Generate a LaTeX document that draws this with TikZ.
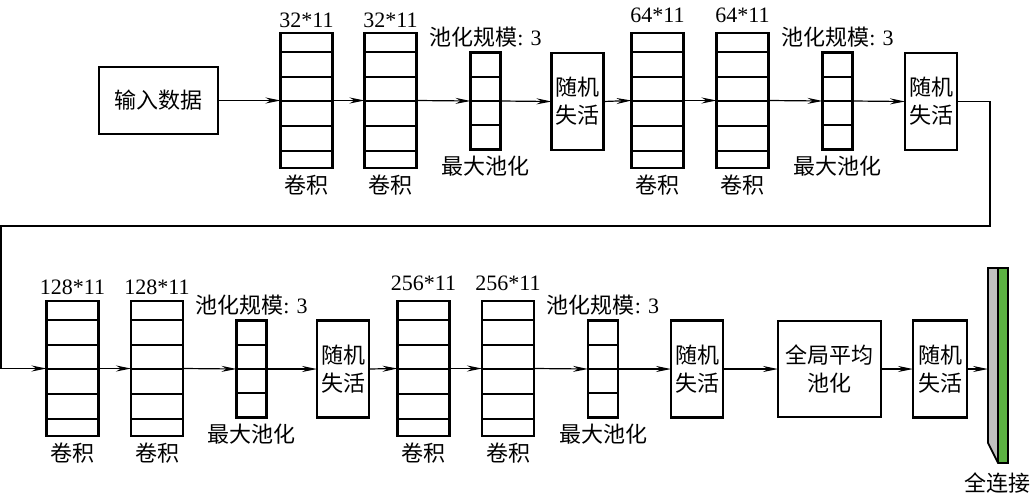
\documentclass[tikz,border=0pt]{standalone}
\usepackage{fontspec}
\setmainfont{Liberation Serif}
\newfontfamily\cjk{Noto Sans CJK SC}
\usetikzlibrary{arrows.meta,calc}
\begin{document}
\begin{tikzpicture}[x=1pt,y=-1pt,
  box/.style={draw, line width=2.2pt, inner sep=0pt, outer sep=0pt, align=center,
    font=\fontsize{22}{28}\selectfont\cjk},
  conv/.style={box, minimum width=52pt, minimum height=135pt},
  pool/.style={box, minimum width=30pt, minimum height=97pt},
  drop/.style={box, minimum width=52pt, minimum height=97pt},
  lbl/.style={inner sep=0pt, font=\fontsize{22}{26}\selectfont},
  clbl/.style={inner sep=0pt, font=\fontsize{22}{26}\selectfont\cjk},
  conn/.style={line width=1.2pt, -{Stealth[length=15pt,width=6pt,inset=5pt]}},
  sep/.style={line width=2.2pt}
]
\useasboundingbox (0,0) rectangle (1032,498);
% row 1
\node[box, minimum width=119pt, minimum height=67pt] (in) at (158.5,100.5) {输入数据};
\node[conv] (c1) at (306.5,100.5) {};
\node[conv] (c2) at (390.5,100.5) {};
\node[pool] (p1) at (485.5,101) {};
\node[drop] (d1) at (577.5,101.5) {随机\\失活};
\node[conv] (c3) at (657.5,100.5) {};
\node[conv] (c4) at (742.5,100.5) {};
\node[pool] (p2) at (837.5,101) {};
\node[drop] (d2) at (931,101.5) {随机\\失活};
% row 2
\node[conv] (c5) at (72.5,368.5) {};
\node[conv] (c6) at (157,368.5) {};
\node[pool] (p3) at (251.5,369) {};
\node[drop] (d3) at (343,369) {随机\\失活};
\node[conv] (c7) at (423.5,368.5) {};
\node[conv] (c8) at (508,368.5) {};
\node[pool] (p4) at (603,369) {};
\node[drop] (d4) at (697,369) {随机\\失活};
\node[box, minimum width=103pt, minimum height=96pt] (gap) at (829.5,369) {全局平均\\池化};
\node[drop, minimum width=54pt] (d5) at (940,369) {随机\\失活};
% fully connected layer
\node[inner sep=0pt, outer sep=0pt, minimum width=20pt, minimum height=195pt] (fc) at (998,365.5) {};
\fill[gray!50!white] (988,268) -- (998,268) -- (998,463) -- (988,443) -- cycle;
\fill[green!55!black!75!white, fill={rgb,255:red,92;green,178;blue,66}] (998,268) rectangle (1008,463);
\draw[line width=1.8pt, line join=miter] (988,268) -- (1008,268) -- (1008,463) -- (998,463) -- (988,443) -- cycle;
\draw[line width=1.8pt] (998,268) -- (998,463);
% separators
\foreach \n in {c1,c2,c3,c4,c5,c6,c7,c8}
  \foreach \f in {0.1407,0.3259,0.5037,0.6889,0.874}
    \draw[sep] ($(\n.north west)!\f!(\n.south west)$) -- ($(\n.north east)!\f!(\n.south east)$);
\foreach \n in {p1,p2,p3,p4}
  \foreach \f in {0.25,0.5,0.75}
    \draw[sep] ($(\n.north west)!\f!(\n.south west)$) -- ($(\n.north east)!\f!(\n.south east)$);
% labels
\node[lbl] (l1) at ($(c1.north)+(0,-13)$) {32*11};
\node[lbl] (l2) at ($(c2.north)+(0,-13)$) {32*11};
\node[lbl] (l3) at ($(c3.north)+(0,-18)$) {64*11};
\node[lbl] (l4) at ($(c4.north)+(0,-18)$) {64*11};
\node[lbl] (l5) at ($(c5.north)+(0,-14)$) {128*11};
\node[lbl] (l6) at ($(c6.north)+(0,-14)$) {128*11};
\node[lbl] (l7) at ($(c7.north)+(0,-18)$) {256*11};
\node[lbl] (l8) at ($(c8.north)+(0,-18)$) {256*11};
\foreach \n in {c1,c2,c3,c4,c5,c6,c7,c8}
  \node[clbl] (k\n) at ($(\n.south)+(0,17)$) {卷积};
\foreach \n in {p1,p2,p3,p4}{
  \node[lbl] (s\n) at ($(\n.north)+(0,-15)$) {{\cjk 池化规模}: 3};
  \node[clbl] (m\n) at ($(\n.south)+(0,17)$) {最大池化};
}
\node[clbl] (fcl) at (997,483) {全连接};
% connectors
\draw[conn] (in.east) -- (c1.west);
\draw[conn] (c1.east) -- (c2.west);
\draw[conn] (c2.east) -- (p1.west);
\draw[conn] (p1.east) -- (d1.west);
\draw[conn] (d1.east) -- (c3.west);
\draw[conn] (c3.east) -- (c4.west);
\draw[conn] (c4.east) -- (p2.west);
\draw[conn] (p2.east) -- (d2.west);
\coordinate (t1) at (990,226);
\coordinate (t2) at (1,226);
\draw[conn] (d2.east) -| (t1) -- (t2) |- (c5.west);
\draw[conn] (c5.east) -- (c6.west);
\draw[conn] (c6.east) -- (p3.west);
\draw[conn] (p3.east) -- (d3.west);
\draw[conn] (d3.east) -- (c7.west);
\draw[conn] (c7.east) -- (c8.west);
\draw[conn] (c8.east) -- (p4.west);
\draw[conn] (p4.east) -- (d4.west);
\draw[conn] (d4.east) -- (gap.west);
\draw[conn] (gap.east) -- (d5.west);
\draw[conn] (d5.east) -- (d5.east -| fc.west);
\end{tikzpicture}
\end{document}
